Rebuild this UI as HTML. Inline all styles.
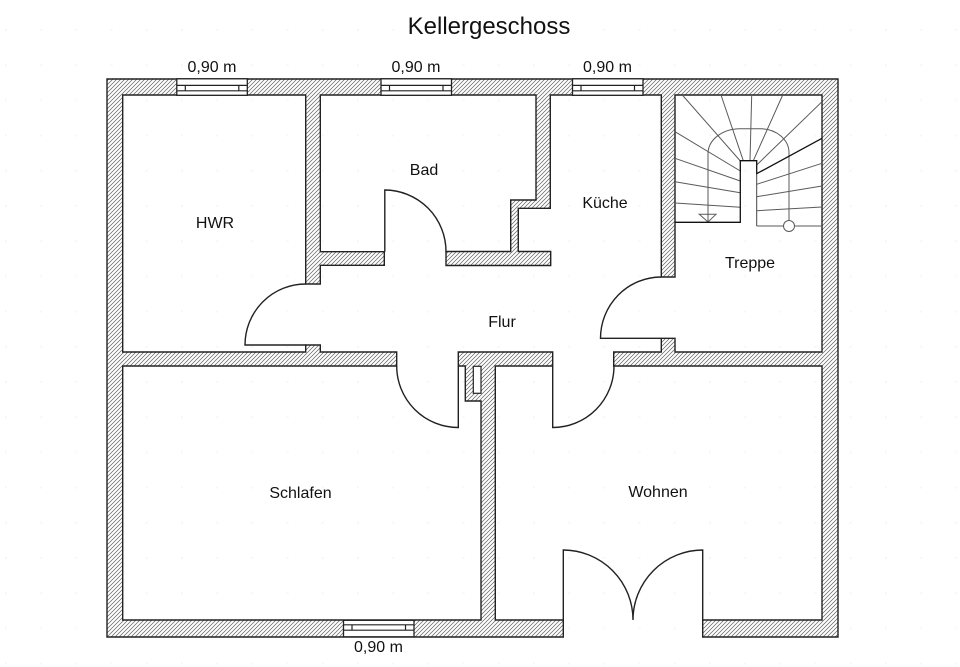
<!DOCTYPE html>
<html><head><meta charset="utf-8"><style>
html,body{margin:0;padding:0;background:#fff;width:960px;height:667px;overflow:hidden}
svg{display:block}
text{font-family:"Liberation Sans",sans-serif;font-size:16px;fill:#111;text-anchor:middle}
</style></head><body>
<svg width="960" height="667" viewBox="0 0 960 667" xmlns="http://www.w3.org/2000/svg">
<defs>
<pattern id="h" width="4" height="4" patternUnits="userSpaceOnUse">
<rect width="4" height="4" fill="#fff"/>
<path d="M-1,1 L1,-1 M0,4 L4,0 M3,5 L5,3" stroke="#666" stroke-width="0.75"/>
</pattern>
<pattern id="d" width="35.2" height="35.2" patternUnits="userSpaceOnUse" x="5" y="29">
<rect x="0" y="0" width="2" height="2" fill="#f6f6f6"/>
</pattern>
<g id="w">
<rect x="0" y="0" width="70.5" height="16.5" fill="#fff" stroke="#222" stroke-width="1.3"/>
<path d="M0,6.6 H70.5 M0,12 H70.5 M8.5,6.6 V12 M62,6.6 V12" fill="none" stroke="#222" stroke-width="1.2"/>
</g>
</defs>
<rect width="960" height="667" fill="#fff"/>
<rect width="960" height="667" fill="url(#d)"/>

<path fill="url(#h)" stroke="#222" stroke-width="1.4" fill-rule="evenodd" d="M563.3,637 L107,637 L107,79 L838,79 L838,637 L702.7,637 L702.7,620 L822,620 L822,366 L613.7,366 L613.7,352 L661.3,352 L661.3,338.3 L675,338.3 L675,352 L822,352 L822,95 L675,95 L675,277 L661.3,277 L661.3,95 L550.3,95 L550.3,208.3 L518.3,208.3 L518.3,251.5 L550.7,251.5 L550.7,265.5 L446,265.5 L446,251.5 L510.7,251.5 L510.7,200 L536,200 L536,95 L320.3,95 L320.3,251.7 L384.3,251.7 L384.3,265.3 L320.3,265.3 L320.3,284 L305.7,284 L305.7,95 L122.7,95 L122.7,352 L305.7,352 L305.7,345 L320.3,345 L320.3,352 L396.7,352 L396.7,366 L122.7,366 L122.7,620 L481,620 L481,401 L465.3,401 L465.3,366 L458.3,366 L458.3,352 L552.7,352 L552.7,366 L495.3,366 L495.3,620 L563.3,620 Z"/>
<rect x="473.3" y="366.3" width="7.7" height="27" fill="#fff" stroke="#222" stroke-width="1.2"/>

<use href="#w" x="176.8" y="78.8"/>
<use href="#w" x="381" y="78.8"/>
<use href="#w" x="572.5" y="78.8"/>
<g transform="translate(343.5,636.8) scale(1,-1)"><use href="#w"/></g>

<g fill="none" stroke="#222" stroke-width="1.4">
<path d="M305.7,284 A60.7,61 0 0 0 245,345 H305.7"/>
<path d="M384.8,251.7 V190 A61.5,61.7 0 0 1 446,251.7"/>
<path d="M661.3,277 A60.8,61.3 0 0 0 600.5,338.3 H661.3"/>
<path d="M396.7,366 A61.6,61.5 0 0 0 458.3,427.5 V366"/>
<path d="M552.7,366 V427.5 A61.3,61.5 0 0 0 614,366"/>
<path d="M563.3,620 V550 A70,70 0 0 1 633,620 A70,70 0 0 1 702.7,550 V620"/>
</g>

<!-- stairs -->
<g fill="none" stroke="#5a5a5a" stroke-width="1">
<path d="M675,131.7 L740.3,171 M675,158.3 L740.3,181 M675,181.7 L740.3,192.7 M675,203 L740.3,207.3"/>
<path d="M682.3,95 L740.3,161 M721,95 L743.3,160.7 M751.7,95 L750,160.7 M782.7,95 L753.3,160.7 M822,101.7 L756.7,165"/>
<path d="M822,163.3 L756.7,184.3 M822,186 L756.7,196.7 M822,207 L756.7,210.7"/>
<path d="M708,222 V153.5 A32,25 0 0 1 740,128.7 H760 A29,24 0 0 1 789,152.5 V220.5"/>
<path d="M756.7,226 H783.5 M794.5,226 H822"/>
<path d="M699.3,214.3 H716 L708,222 Z"/>
<circle cx="789" cy="226" r="5.5"/>
</g>
<g fill="none" stroke="#111" stroke-width="1.3">
<path d="M675,222.3 H740.3 V160.7 H756.7 V173.7 L822,138.3" />
<path d="M756.7,173.7 V226" stroke="#444" stroke-width="1"/>
</g>

<text x="489" y="34" style="font-size:24px">Kellergeschoss</text>
<text x="212" y="72">0,90 m</text>
<text x="416" y="72">0,90 m</text>
<text x="607.5" y="72">0,90 m</text>
<text x="378.5" y="652">0,90 m</text>
<text x="215" y="228">HWR</text>
<text x="424" y="175">Bad</text>
<text x="605" y="208">Küche</text>
<text x="750" y="268">Treppe</text>
<text x="502" y="327">Flur</text>
<text x="300.5" y="498">Schlafen</text>
<text x="658" y="497">Wohnen</text>
</svg>
</body></html>
